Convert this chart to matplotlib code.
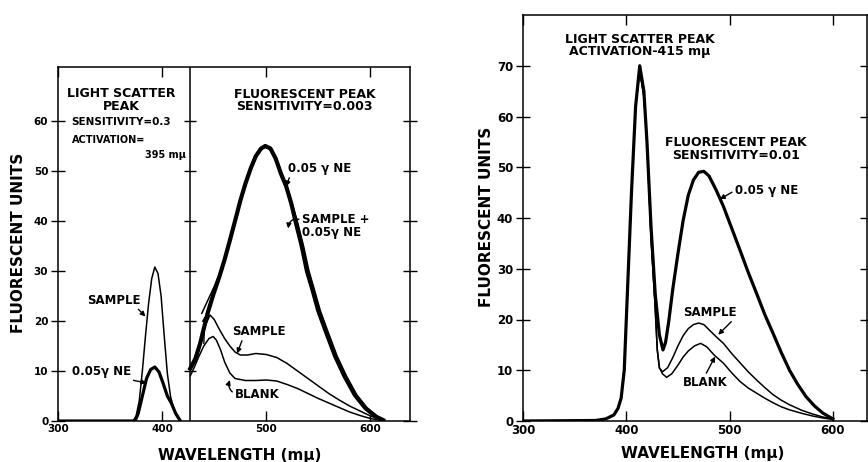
import matplotlib
matplotlib.use("Agg")
import matplotlib.pyplot as plt

plt.rcParams['font.family'] = ['DejaVu Sans']
plt.rcParams['font.weight'] = 'bold'

# ---- left figure: light scatter peak (activation 395 mu) ----
ls_x = [300, 372, 375, 378, 381, 384, 387, 390, 393, 396, 399, 402, 405, 408, 411, 414, 417]
ls_sample = [0, 0, 1, 4, 10, 17, 23.5, 28.5, 30.8, 29.5, 25, 17, 9.5, 5, 2.5, 1, 0]
ls_ne_x = [300, 374, 377, 381, 385, 389, 393, 397, 401, 405, 409, 413, 417]
ls_ne = [0, 0, 1.5, 5, 8.5, 10.3, 10.8, 9.8, 7.5, 5, 3.5, 1.5, 0.2]

# ---- left figure: fluorescent peak (sensitivity 0.003) ----
fl_ne_x = [427, 432, 436.5, 440, 444, 449, 455, 460, 465, 470, 475, 480, 485, 490, 495,
           499, 504, 509, 514, 519, 524, 528, 534, 539, 544, 550, 557, 566, 575, 585, 595, 605, 612]
fl_ne = [10.5, 12.5, 15.5, 18.5, 21.8, 25.2, 28.9, 32.3, 36.1, 40, 44, 47.5, 50.5, 53, 54.5,
         55, 54.5, 52.5, 49.5, 47, 43.5, 40, 35, 30, 26.5, 22, 18, 13, 9, 5.2, 2.6, 0.9, 0.2]
fl_mix_x = [438, 442, 446, 450, 455, 460, 465, 470, 475, 480, 485, 490, 495, 500,
            505, 510, 515, 520, 525, 530, 536, 541, 546, 552, 559, 568, 577, 587, 597, 607, 614]
fl_mix = [21.5, 23.3, 25.1, 26.9, 29.4, 32.4, 36.2, 40.2, 44.2, 47.6, 50.6, 53, 54.4, 54.8,
          54.2, 52.3, 49.5, 46.8, 43.4, 39.8, 34.8, 30, 26.4, 22, 18, 13, 9, 5.2, 2.6, 0.9, 0.2]
fl_sample_x = [427, 431, 435, 440, 446, 450, 455, 460, 465, 470, 475, 482, 490, 500,
               510, 520, 530, 540, 550, 560, 570, 580, 590, 600, 610]
fl_sample = [10.2, 12.5, 15, 18.5, 21.2, 20.3, 18.3, 16.5, 15, 13.8, 13.2, 13.2, 13.5, 13.3,
             12.7, 11.5, 10, 8.5, 7, 5.5, 4.2, 3, 2, 1, 0.3]
fl_blank_x = [427, 431, 435, 440, 445, 449, 452, 456, 460, 465, 470, 480, 490, 500,
              510, 520, 530, 540, 550, 560, 570, 580, 590, 600, 610]
fl_blank = [9.0, 10.8, 12.8, 15, 16.5, 16.9, 16.2, 14.3, 11.8, 9.6, 8.5, 8.1, 8.1, 8.2,
            8, 7.3, 6.5, 5.5, 4.5, 3.6, 2.7, 1.8, 1.1, 0.5, 0.1]

# ---- right figure: activation 415 mu, sensitivity 0.01 ----
r_ne_x = [300, 370, 380, 388, 392, 395, 398, 401, 405, 409, 413, 417, 420, 424, 428, 432,
          435.5, 438, 441, 445, 450, 455, 460, 465, 470, 475, 480, 487, 494, 502, 510, 518,
          526, 534, 542, 550, 558, 566, 574, 582, 590, 600]
r_ne = [0, 0.1, 0.4, 1.2, 2.5, 4.5, 10, 25, 45, 62, 70, 65, 55, 38, 25, 17,
        14, 15.5, 19.5, 26, 33, 39.5, 44.5, 47.5, 49, 49.2, 48.3, 45.5, 42.3, 38, 33.7, 29.3,
        25.2, 21, 17.3, 13.5, 10, 7.2, 4.8, 3, 1.6, 0.4]
r_sample_x = [395, 398, 401, 405, 409, 413, 417, 420, 424, 427.5, 430, 432, 435, 440, 445,
              450, 455, 460, 465, 470, 475, 480, 487, 494, 502, 510, 518, 526, 534, 542, 550,
              558, 570, 580, 590, 600]
r_sample = [4.5, 10, 25, 45, 62, 69, 64, 55, 36, 24, 14, 10.4, 9.7, 10.5, 12.5,
            14.8, 16.8, 18.2, 19, 19.3, 19, 18, 16.6, 15.3, 13.3, 11.5, 9.7, 8.1, 6.6, 5.2, 4.1,
            3.2, 2.1, 1.4, 0.8, 0.4]
r_blank_x = [395, 398, 401, 405, 409, 413, 417, 420, 424, 427.5, 430, 432, 435, 439, 444,
             450, 455, 460, 466, 472, 478, 485, 494, 502, 510, 518, 526, 534, 542, 550,
             558, 570, 580, 590, 600]
r_blank = [4.5, 10, 25, 45, 62, 69, 64, 55, 36, 24, 14, 10.6, 9.3, 8.6, 9.3,
           11, 12.6, 13.8, 14.8, 15.3, 14.6, 13, 11.4, 9.5, 7.8, 6.5, 5.5, 4.5, 3.6, 2.8,
           2.2, 1.5, 1, 0.6, 0.3]

xticks = [300, 400, 500, 600]

fig = plt.figure(figsize=(8.68, 4.62), dpi=100)
ax1 = fig.add_axes([58 / 868, 1 - 421 / 462, 352 / 868, 354 / 462])
ax2 = fig.add_axes([523 / 868, 1 - 421 / 462, 344 / 868, 406 / 462])

thin = dict(color='black', lw=1.1, solid_joinstyle='round', solid_capstyle='round')

# left panel curves
ax1.plot(ls_x, ls_sample, **thin)
ax1.plot(ls_ne_x, ls_ne, color='black', lw=2.3, solid_joinstyle='round')
ax1.plot(fl_sample_x, fl_sample, **thin)
ax1.plot(fl_blank_x, fl_blank, **thin)
ax1.plot(fl_mix_x, fl_mix, **thin)
ax1.plot(fl_ne_x, fl_ne, color='black', lw=3.0, solid_joinstyle='round')
ax1.axvline(427, color='black', lw=1.1)

ax1.set_xlim(300, 638)
ax1.set_ylim(0, 70.8)
ax1.set_xticks(xticks)
ax1.set_yticks(range(0, 61, 10))

sec = ax1.secondary_yaxis((427 - 300) / (638 - 300))
sec.set_yticks(range(10, 61, 10))
sec.tick_params(direction='inout', length=8, width=1, labelleft=False, labelright=False)
sec.spines['right'].set_visible(False)
sec.spines['left'].set_visible(False)

# right panel curves
ax2.plot(r_sample_x, r_sample, **thin)
ax2.plot(r_blank_x, r_blank, **thin)
ax2.plot(r_ne_x, r_ne, color='black', lw=2.3, solid_joinstyle='round')
ax2.set_xlim(300, 633)
ax2.set_ylim(0, 80)
ax2.set_xticks(xticks)
ax2.set_yticks(range(0, 71, 10))

for ax, tsize in ((ax1, 7.5), (ax2, 8.5)):
    for s in ax.spines.values():
        s.set_linewidth(1.1)
    ax.tick_params(axis='y', which='both', left=True, right=True, direction='in', length=7, width=1)
    ax.tick_params(axis='y', which='both', left=True, direction='inout', length=10)
    ax.tick_params(axis='x', top=True, bottom=True, direction='in', length=7, width=1)
    ax.tick_params(labelsize=tsize, pad=2)
    for lab in ax.get_xticklabels() + ax.get_yticklabels():
        lab.set_fontweight('bold')
    ax.set_ylabel('FLUORESCENT UNITS', fontsize=11, fontweight='bold')
    ax.set_xlabel('WAVELENGTH (mμ)', fontsize=11, fontweight='bold')

ax1.yaxis.set_label_coords(-0.091, 0.503)
ax1.xaxis.set_label_coords(0.517, -0.076)
ax2.yaxis.set_label_coords(-0.084, 0.502)
ax2.xaxis.set_label_coords(0.523, -0.062)

arrow = dict(arrowstyle='-|>', color='black', lw=1.0, mutation_scale=7, shrinkA=0, shrinkB=0)

# left panel texts
ax1.text(361, 64.2, 'LIGHT SCATTER\nPEAK', ha='center', va='center', fontsize=9,
         fontweight='bold', linespacing=0.95)
ax1.text(313, 59.7, 'SENSITIVITY=0.3', ha='left', va='center', fontsize=7.5, fontweight='bold')
ax1.text(313, 56.2, 'ACTIVATION=', ha='left', va='center', fontsize=7, fontweight='bold')
ax1.text(423, 53.2, '395 mμ', ha='right', va='center', fontsize=7, fontweight='bold')
ax1.text(537, 64.1, 'FLUORESCENT PEAK\nSENSITIVITY=0.003', ha='center', va='center',
         fontsize=9, fontweight='bold', linespacing=0.95)

ax1.annotate('0.05 γ NE', xy=(519, 46.9), xytext=(521, 50.5), fontsize=8.5,
             fontweight='bold', va='center', ha='left',
             arrowprops=dict(arrow, relpos=(0.05, 0.2)))
ax1.annotate('SAMPLE +\n0.05γ NE', xy=(521, 38.5), xytext=(534, 38.9), fontsize=8.5,
             fontweight='bold', va='center', ha='left', linespacing=1.0,
             arrowprops=dict(arrow, relpos=(0, 0.75), connectionstyle='arc3,rad=0.6'))
ax1.annotate('SAMPLE', xy=(472, 13.5), xytext=(493, 17.9), fontsize=8.5,
             fontweight='bold', va='center', ha='center',
             arrowprops=dict(arrow, relpos=(0.2, 0)))
ax1.annotate('BLANK', xy=(465, 8.2), xytext=(470, 5.4), fontsize=8.5,
             fontweight='bold', va='center', ha='left',
             arrowprops=dict(arrow, relpos=(0, 0.5), connectionstyle='arc3,rad=-0.4'))
ax1.annotate('', xy=(441, 21), xytext=(440, 15.5), arrowprops=arrow)
ax1.annotate('SAMPLE', xy=(384, 20.9), xytext=(354, 24.2), fontsize=8.5,
             fontweight='bold', va='center', ha='center',
             arrowprops=dict(arrow, relpos=(0.9, 0)))
ax1.annotate('0.05γ NE', xy=(385, 7.6), xytext=(313, 9.9), fontsize=8.5,
             fontweight='bold', va='center', ha='left',
             arrowprops=dict(arrow, relpos=(0.85, 0)))

# right panel texts
ax2.text(413, 74.0, 'LIGHT SCATTER PEAK\nACTIVATION-415 mμ', ha='center', va='center',
         fontsize=9, fontweight='bold', linespacing=0.95)
ax2.text(506, 53.6, 'FLUORESCENT PEAK\nSENSITIVITY=0.01', ha='center', va='center',
         fontsize=9, fontweight='bold', linespacing=0.95)
ax2.annotate('0.05 γ NE', xy=(490.5, 43.7), xytext=(505, 45.4), fontsize=8.5,
             fontweight='bold', va='center', ha='left',
             arrowprops=dict(arrow, relpos=(0, 0.5)))
ax2.annotate('SAMPLE', xy=(489, 17), xytext=(481, 21.4), fontsize=8.5,
             fontweight='bold', va='center', ha='center',
             arrowprops=dict(arrow, relpos=(0.95, 0)))
ax2.annotate('BLANK', xy=(486, 12.7), xytext=(476, 7.6), fontsize=8.5,
             fontweight='bold', va='center', ha='center',
             arrowprops=dict(arrow, relpos=(0.5, 1)))

fig.savefig('out.png', dpi=100)
